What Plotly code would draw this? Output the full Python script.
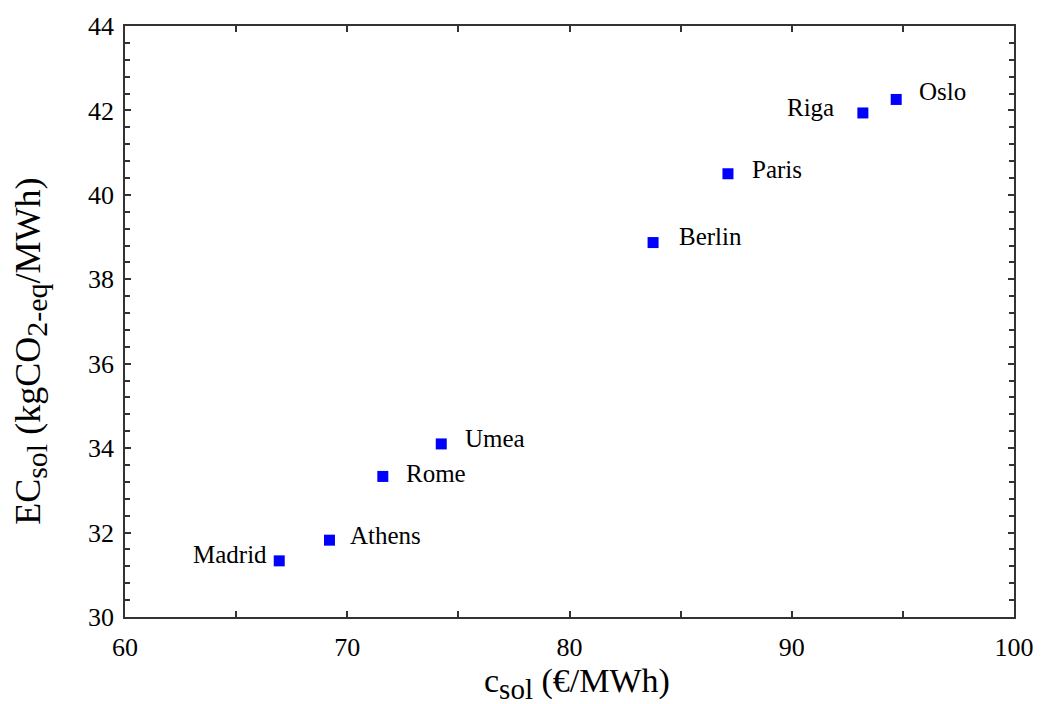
import plotly.graph_objects as go

# Solar electricity: cost vs. embodied carbon, per city
cities = ["Madrid", "Athens", "Rome", "Umea", "Berlin", "Paris", "Riga", "Oslo"]
cost_eur_mwh = [66.94, 69.2, 71.6, 74.23, 83.76, 87.13, 93.2, 94.7]
ec_kgco2_mwh = [31.33, 31.82, 33.33, 34.10, 38.87, 40.50, 41.94, 42.26]

# label placement (pixel offsets from the marker centre)
label_side = ["left", "right", "right", "right", "right", "right", "left", "right"]
label_dx = [-10, 19, 21, 22, 24, 22, -27, 21]
label_dy = [6, 5, 3, 5, 6, 4, 5, 8]

x_ticks = [60, 70, 80, 90, 100]
y_ticks = [30, 32, 34, 36, 38, 40, 42, 44]

FONT = "Liberation Serif, Times New Roman, serif"
AXIS_COLOR = "#333333"

fig = go.Figure()
fig.add_trace(go.Scatter(
    x=cost_eur_mwh,
    y=ec_kgco2_mwh,
    mode="markers",
    marker=dict(symbol="square", size=11, color="#0000ff", line=dict(width=0)),
    hoverinfo="text",
    text=cities,
    showlegend=False,
))

for name, cx, cy, side, dx, dy in zip(cities, cost_eur_mwh, ec_kgco2_mwh,
                                      label_side, label_dx, label_dy):
    fig.add_annotation(
        x=cx, y=cy, text=name, showarrow=False,
        xanchor="left" if side == "right" else "right",
        yanchor="middle",
        xshift=dx, yshift=dy,
        font=dict(family=FONT, size=25, color="black"),
    )

# axis titles, placed as paper-anchored annotations
fig.add_annotation(
    xref="paper", yref="paper", x=0.508, y=-0.112,
    xanchor="center", yanchor="middle", showarrow=False,
    text='c<sub><span style="font-size:29px">sol</span></sub> (€/MWh)',
    font=dict(family=FONT, size=34, color="black"),
)
fig.add_annotation(
    xref="paper", yref="paper", x=-0.106, y=0.45,
    xanchor="center", yanchor="middle", showarrow=False, textangle=-90,
    text='EC<sub><span style="font-size:30px">sol</span></sub> '
         '(kgCO<sub><span style="font-size:30px">2-eq</span></sub>/MWh)',
    font=dict(family=FONT, size=36, color="black"),
)

axis_common = dict(
    showgrid=False,
    zeroline=False,
    showline=True,
    linecolor=AXIS_COLOR,
    linewidth=1.5,
    mirror="ticks",
    ticks="inside",
    ticklen=6,
    tickwidth=1.5,
    tickcolor=AXIS_COLOR,
    tickfont=dict(family=FONT, size=26, color="black"),
)

fig.update_xaxes(
    range=[60, 100],
    tickvals=x_ticks,
    ticktext=[str(v) for v in x_ticks],
    minor=dict(dtick=5, tick0=60, ticks="inside", ticklen=6,
               tickwidth=1.5, tickcolor=AXIS_COLOR),
    ticklabelstandoff=6,
    **axis_common,
)
fig.update_yaxes(
    range=[30, 44],
    tickvals=y_ticks,
    ticktext=[str(v) for v in y_ticks],
    minor=dict(dtick=0.4, tick0=30, ticks="inside", ticklen=5,
               tickwidth=1.5, tickcolor=AXIS_COLOR),
    ticklabelstandoff=4,
    **axis_common,
)

fig.update_layout(
    width=1046,
    height=704,
    margin=dict(l=125, r=25, t=23, b=87),
    plot_bgcolor="white",
    paper_bgcolor="white",
    font=dict(family=FONT),
)

fig.write_html("out.html")
